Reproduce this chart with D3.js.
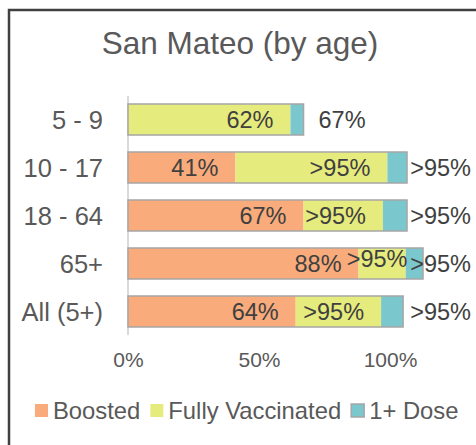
<!DOCTYPE html>
<html>
<head>
<meta charset="utf-8">
<script src="https://cdn.jsdelivr.net/npm/d3@7"></script>
<style>
  body { margin: 0; background: #fff; }
  svg text { font-family: "Liberation Sans", Arial, sans-serif; }
</style>
</head>
<body>
<div id="chart"></div>
<script>
// Data (cumulative coverage, %)
var categories = ["5 - 9", "10 - 17", "18 - 64", "65+", "All (5+)"];
var boosted = [0, 41, 67, 88, 64];
var fully = [62, 99, 97.3, 106, 96.6];
var oneDose = [67, 106.5, 106.5, 112.6, 105];
var seriesNames = ["Boosted", "Fully Vaccinated", "1+ Dose"];
var xTicks = [0, 50, 100];

var colors = ["#F9AB7B", "#E6EB7D", "#7AC8CE"];
var textColor = "#595959";

var svgWidth = 476, svgHeight = 445;

var svg = d3.select("#chart").append("svg")
  .attr("width", svgWidth)
  .attr("height", svgHeight);

// chart border
svg.append("rect")
  .attr("x", 9).attr("y", 10)
  .attr("width", 520).attr("height", 480)
  .attr("fill", "#fff")
  .attr("stroke", "#404040")
  .attr("stroke-width", 2.5);

// title
svg.append("text")
  .attr("x", 240).attr("y", 54)
  .attr("text-anchor", "middle")
  .attr("font-size", 31.5)
  .attr("fill", textColor)
  .text("San Mateo (by age)");

// scales
var x = d3.scaleLinear().domain([0, 100]).range([128, 390]);
var y = d3.scaleBand().domain(categories)
  .range([95.5, 335.5])
  .paddingInner(17 / 48)
  .paddingOuter(17 / 96);

// build stacked rows from cumulative values
var rows = categories.map(function(c, i) {
  var vals = [boosted[i], fully[i], oneDose[i]];
  var segs = vals.map(function(v, j) {
    return { cat: c, series: j, x0: j === 0 ? 0 : vals[j - 1], x1: v, value: v };
  });
  return { cat: c, segs: segs, total: oneDose[i] };
});

function labelText(v) {
  return v > 95 ? ">95%" : Math.round(v) + "%";
}

// x axis labels (no line, no ticks)
var xAxis = d3.axisBottom(x).tickValues(xTicks)
  .tickFormat(function(d) { return d + "%"; })
  .tickSize(0).tickPadding(0);

var gx = svg.append("g")
  .attr("transform", "translate(0, 352)")
  .call(xAxis);
gx.select(".domain").remove();
gx.selectAll("text")
  .attr("font-size", 21)
  .attr("fill", textColor)
  .attr("font-family", "Liberation Sans, Arial, sans-serif")
  .attr("dy", "0.71em");

// vertical category axis line
svg.append("line")
  .attr("x1", x(0)).attr("x2", x(0))
  .attr("y1", 96).attr("y2", 335)
  .attr("stroke", "#D9D9D9")
  .attr("stroke-width", 2);

// category labels
svg.selectAll(".catLabel")
  .data(categories)
  .join("text")
  .attr("class", "catLabel")
  .attr("x", 103)
  .attr("y", d => y(d) + y.bandwidth() / 2)
  .attr("dy", "0.36em")
  .attr("text-anchor", "end")
  .attr("font-size", 25.5)
  .attr("fill", textColor)
  .text(d => d);

// bars
var barG = svg.selectAll(".bar")
  .data(rows)
  .join("g")
  .attr("class", "bar");

barG.selectAll("rect.seg")
  .data(d => d.segs.filter(s => s.x1 > s.x0))
  .join("rect")
  .attr("class", "seg")
  .attr("x", d => x(d.x0))
  .attr("y", d => y(d.cat))
  .attr("width", d => x(d.x1) - x(d.x0))
  .attr("height", y.bandwidth())
  .attr("fill", d => colors[d.series]);

barG.append("rect")
  .attr("x", x(0))
  .attr("y", d => y(d.cat))
  .attr("width", d => x(d.total) - x(0))
  .attr("height", y.bandwidth())
  .attr("fill", "none")
  .attr("stroke", "#A6A6A6")
  .attr("stroke-width", 1.5);

// data labels
rows.forEach(function(r) {
  var cy = y(r.cat) + y.bandwidth() / 2;
  r.segs.forEach(function(s) {
    if (s.value <= 0) return;
    var t = svg.append("text")
      .attr("y", cy)
      .attr("dy", "0.36em")
      .attr("font-size", 23.5)
      .attr("fill", "#404040")
      .text(labelText(s.value));
    var w = t.node().getComputedTextLength();
    var x0 = x(s.x0), x1 = x(s.x1);
    if (s.series < 2) {
      if (x1 - x0 >= w + 18) {
        t.attr("x", x1 - 17).attr("text-anchor", "end");
      } else {
        t.attr("x", (x0 + x1) / 2 - 5).attr("text-anchor", "middle")
          .attr("y", cy - 5);
      }
    } else {
      var lx = Math.min(x1 + 15, 471 - w);
      t.attr("x", lx).attr("text-anchor", "start");
    }
  });
});

// legend
var lx = 35;
seriesNames.forEach(function(name, i) {
  svg.append("rect")
    .attr("x", lx).attr("y", 404)
    .attr("width", 13).attr("height", 13)
    .attr("fill", colors[i])
    .attr("stroke", i === 2 ? "#A6A6A6" : "none")
    .attr("stroke-width", 1.5);
  var t = svg.append("text")
    .attr("x", lx + 18).attr("y", 410)
    .attr("dy", "0.36em")
    .attr("font-size", 23.8)
    .attr("fill", textColor)
    .text(name);
  lx += 18 + t.node().getComputedTextLength() + 10;
});
</script>
</body>
</html>
